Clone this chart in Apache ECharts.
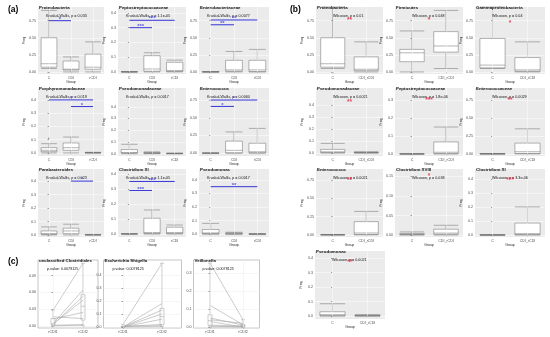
<!DOCTYPE html>
<html><head><meta charset="utf-8">
<script src="https://cdn.jsdelivr.net/npm/echarts@6/dist/echarts.min.js"></script>
<style>html,body{margin:0;padding:0;background:#fff}#c{width:550px;height:337px}</style>
</head><body><div id="c"></div><script>
// ---------- DATA ----------
const groupsA = ['C', 'CDI', 'rCDI'];
const groupsB = ['C', 'CDI_rCDI'];
const groupsC = ['rCDI1', 'rCDI2'];

const titlesA = ['Proteobacteria', 'Peptostreptococcaceae', 'Enterobacteriaceae', 'Porphyromonadaceae', 'Pseudomonadaceae', 'Enterococcus', 'Parabacteroides', 'Clostridium XI', 'Pseudomonas'];
const testsA = ['Kruskal-Wallis, p = 0.033', 'Kruskal-Wallis, p = 1.1e-05', 'Kruskal-Wallis, p = 0.0077', 'Kruskal-Wallis, p = 0.019', 'Kruskal-Wallis, p = 0.0017', 'Kruskal-Wallis, p = 0.0060', 'Kruskal-Wallis, p = 0.023', 'Kruskal-Wallis, p = 1.1e-05', 'Kruskal-Wallis, p = 0.0017'];
// [low, Q1, median, Q3, high] per group
const boxesA = [
  [[0.05, 0.07, 0.12, 0.50, 0.90], [0.00, 0.03, 0.04, 0.16, 0.22], [0.00, 0.04, 0.07, 0.26, 0.44]],
  [[0, 0, 0, 0.001, 0.002], [0, 0.005, 0.02, 0.11, 0.13], [0, 0.003, 0.01, 0.065, 0.08]],
  [[0, 0, 0, 0.002, 0.005], [0, 0.01, 0.03, 0.17, 0.30], [0, 0.005, 0.03, 0.17, 0.33]],
  [[0, 0.01, 0.02, 0.04, 0.07], [0, 0.02, 0.04, 0.075, 0.12], [0, 0, 0.001, 0.003, 0.005]],
  [[0, 0.005, 0.01, 0.035, 0.08], [0, 0.002, 0.005, 0.01, 0.015], [0, 0, 0.001, 0.003, 0.005]],
  [[0, 0, 0, 0.001, 0.002], [0, 0.005, 0.04, 0.17, 0.30], [0, 0.005, 0.02, 0.14, 0.35]],
  [[0, 0.005, 0.01, 0.03, 0.06], [0, 0.01, 0.03, 0.05, 0.08], [0, 0, 0.001, 0.002, 0.004]],
  [[0, 0, 0, 0.001, 0.002], [0, 0.003, 0.01, 0.105, 0.16], [0, 0.003, 0.01, 0.045, 0.06]],
  [[0, 0.005, 0.01, 0.035, 0.08], [0, 0.002, 0.005, 0.01, 0.015], [0, 0, 0.001, 0.003, 0.005]]
];
const outliersA = [[], [], [], [[0, 0.11]], [], [], [], [], []];
// [fromGroup, toGroup, y, label]
const sigA = [
  [[0, 1, 0.75, '*']],
  [[0, 2, 0.35, '***'], [0, 1, 0.30, '***']],
  [[0, 2, 0.76, '**'], [0, 1, 0.69, '**']],
  [[0, 2, 0.40, '*'], [1, 2, 0.35, '*']],
  [],
  [[0, 2, 0.75, '*'], [0, 1, 0.66, '*']],
  [[1, 2, 0.40, '*']],
  [[0, 2, 0.35, '***'], [0, 1, 0.29, '***']],
  [[0, 2, 0.35, '**']]
];
const ticksA = [
  [0, 0.25, 0.5, 0.75], [0, 0.1, 0.2, 0.3, 0.4], [0, 0.25, 0.5, 0.75],
  [0, 0.1, 0.2, 0.3, 0.4], [0, 0.1, 0.2, 0.3, 0.4], [0, 0.25, 0.5, 0.75],
  [0, 0.1, 0.2, 0.3, 0.4], [0, 0.1, 0.2, 0.3, 0.4], [0, 0.1, 0.2, 0.3, 0.4]
];
const yRangeA = [
  [-0.03, 0.95], [-0.014, 0.44], [-0.03, 0.95],
  [-0.023, 0.49], [-0.02, 0.56], [-0.04, 0.92],
  [-0.015, 0.49], [-0.02, 0.433], [-0.02, 0.48]
];

const titlesB = ['Proteobacteria', 'Firmicutes', 'Gammaproteobacteria', 'Pseudomonadaceae', 'Peptostreptococcaceae', 'Enterococcaceae', 'Enterococcus', 'Clostridium XVIII', 'Clostridium XI', 'Pseudomonas'];
const testsB = ['Wilcoxon, p = 0.01', 'Wilcoxon, p = 0.048', 'Wilcoxon, p = 0.04', 'Wilcoxon, p = 0.0021', 'Wilcoxon, p = 1.8e-06', 'Wilcoxon, p = 0.0029', 'Wilcoxon, p = 0.0021', 'Wilcoxon, p = 0.038', 'Wilcoxon, p = 3.3e-06', 'Wilcoxon, p = 0.0021'];
const boxesB = [
  [[0.05, 0.07, 0.12, 0.50, 0.95], [0.00, 0.02, 0.04, 0.22, 0.44]],
  [[0.00, 0.15, 0.28, 0.33, 0.60], [0.05, 0.29, 0.38, 0.59, 0.90]],
  [[0.05, 0.06, 0.10, 0.49, 0.95], [0.00, 0.01, 0.03, 0.21, 0.44]],
  [[0, 0.003, 0.01, 0.03, 0.08], [0, 0.001, 0.003, 0.006, 0.01]],
  [[0, 0, 0, 0.001, 0.002], [0, 0.003, 0.01, 0.067, 0.15]],
  [[0, 0, 0, 0.001, 0.002], [0, 0.005, 0.03, 0.15, 0.35]],
  [[0, 0, 0, 0.001, 0.002], [0, 0.005, 0.025, 0.18, 0.32]],
  [[0, 0.001, 0.002, 0.004, 0.008], [0, 0.002, 0.005, 0.015, 0.025]],
  [[0, 0, 0, 0.001, 0.002], [0, 0.003, 0.01, 0.085, 0.20]],
  [[0, 0.003, 0.01, 0.03, 0.085], [0, 0.001, 0.003, 0.006, 0.01]]
];
const starsB = [[0.76, '**'], [0.76, '*'], [0.72, '*'], [0.42, '**'], [0.30, '***'], [0.75, '**'], [0.75, '**'], [0.15, '*'], [0.39, '***'], [0.37, '**']];
const ticksB = [
  [0, 0.25, 0.5, 0.75], [0, 0.25, 0.5, 0.75], [0, 0.25, 0.5, 0.75],
  [0, 0.1, 0.2, 0.3, 0.4], [0, 0.1, 0.2, 0.3], [0, 0.25, 0.5, 0.75],
  [0, 0.25, 0.5, 0.75], [0, 0.05, 0.1, 0.15], [0, 0.1, 0.2, 0.3, 0.4],
  [0, 0.1, 0.2, 0.3, 0.4]
];
const yRangeB = [
  [-0.03, 0.95], [-0.03, 0.95], [-0.03, 0.95],
  [-0.025, 0.54], [-0.011, 0.367], [-0.03, 0.92],
  [-0.03, 0.90], [-0.005, 0.169], [-0.014, 0.47],
  [-0.02, 0.448]
];

const titlesC = ['unclassified Clostridiales', 'Escherichia Shigella', 'Veillonella'];
const testsC = ['p.value: 0.0078125', 'p.value: 0.0078125', 'p.value: 0.0078125'];
const pairsC1 = [[0.028, 0.112], [0.004, 0.064], [0.002, 0.053], [0.012, 0.024], [0.016, 0.013], [0.001, 0.002], [0.000, 0.001], [0.003, 0.046]];
const pairsC2 = [[0.02, 0.49], [0.0, 0.18], [0.0, 0.13], [0.0, 0.10], [0.0, 0.06], [0.005, 0.01], [0.0, 0.003], [0.003, 0.02]];
const pairsC3 = [[0.355, 0.04], [0.12, 0.012], [0.05, 0.01], [0.04, 0.02], [0.03, 0.0], [0.01, 0.005], [0.005, 0.0], [0.0, 0.0]];
const ticksC = [[0, 0.03, 0.06, 0.09], [0, 0.1, 0.2, 0.3, 0.4], [0, 0.1, 0.2, 0.3]];
const yRangeC = [[-0.004, 0.118], [-0.008, 0.515], [-0.006, 0.372]];

// ---------- LAYOUT ----------
const FONT = 'Liberation Sans, Arial, sans-serif';
const rowsAB = [[7, 67], [88, 68], [169, 68], [251, 68]];
const colsA = [[38, 66], [118, 68], [199, 70]];
const colsB = [[316, 67], [395, 68], [475, 70]];
const rectsC = [[38, 60], [103.5, 78], [193.5, 66]];
const rowC = [260, 68];

const option = { animation: false, textStyle: { fontFamily: FONT }, grid: [], xAxis: [], yAxis: [], series: [], title: [], graphic: [] };

function fmt(ticks) {
  const d = Math.max(...ticks.map(t => (String(t).split('.')[1] || '').length));
  return v => Number(v).toFixed(d);
}
function quart(arr) {
  const s = arr.slice().sort((a, b) => a - b);
  const q = p => { const i = (s.length - 1) * p, lo = Math.floor(i), hi = Math.ceil(i); return s[lo] + (s[hi] - s[lo]) * (i - lo); };
  return [s[0], q(0.25), q(0.5), q(0.75), s[s.length - 1]];
}

function panel(o) {
  const gi = option.grid.length;
  option.grid.push({ left: o.x, top: o.y, width: o.w, height: o.h, show: true, backgroundColor: o.bg, borderWidth: o.border ? 0.6 : 0, borderColor: '#a0a0a0' });
  const xc = option.xAxis.length;
  option.xAxis.push({ type: 'category', gridIndex: gi, data: o.cats, axisLine: { show: false },
    axisTick: { show: true, alignWithLabel: true, length: 1.5, lineStyle: { color: '#444', width: 0.5 } },
    axisLabel: { fontSize: 3.6, color: '#4d4d4d', margin: 2, fontFamily: FONT }, splitLine: { show: false },
    name: o.xname || '', nameLocation: 'middle', nameGap: 6.5, nameTextStyle: { fontSize: 3.4, color: '#222', fontFamily: FONT } });
  const xv = option.xAxis.length;
  option.xAxis.push({ type: 'value', gridIndex: gi, min: -0.5, max: o.cats.length - 0.5, show: false });
  const yi = option.yAxis.length;
  option.yAxis.push({ type: 'value', gridIndex: gi, min: o.range[0], max: o.range[1], axisLine: { show: false },
    axisTick: { show: true, length: 1.5, customValues: o.ticks, lineStyle: { color: '#444', width: 0.5 } },
    axisLabel: { fontSize: 3.6, color: '#4d4d4d', margin: 2, customValues: o.ticks, formatter: fmt(o.ticks), fontFamily: FONT },
    splitLine: { show: true, lineStyle: { color: o.gridColor, width: 0.5 } },
    name: o.yname || '', nameLocation: 'middle', nameGap: 12, nameRotate: 90, nameTextStyle: { fontSize: 3.4, color: '#222', fontFamily: FONT } });
  // vertical grid lines at categories
  option.series.push({ type: 'line', xAxisIndex: xc, yAxisIndex: yi, data: [], z: 1, silent: true,
    markLine: { silent: true, symbol: ['none', 'none'], label: { show: false }, animation: false,
      lineStyle: { color: o.gridColor, width: 0.5, type: 'solid' }, data: o.cats.map(c => ({ xAxis: c })) } });
  // paired lines
  (o.pairs || []).forEach(p => {
    option.series.push({ type: 'line', xAxisIndex: xc, yAxisIndex: yi, data: p, symbol: 'none', z: 3, silent: true,
      lineStyle: { color: '#a8a8a8', width: 0.6 } });
  });
  option.series.push({ type: 'boxplot', xAxisIndex: xc, yAxisIndex: yi, data: o.boxes, z: 2, silent: true,
    boxWidth: o.boxWidth, itemStyle: { color: '#ffffff', borderColor: o.boxColor || '#6a6a6a', borderWidth: 0.5 } });
  if (o.outliers && o.outliers.length) {
    option.series.push({ type: 'scatter', xAxisIndex: xc, yAxisIndex: yi, data: o.outliers, symbolSize: 1.6, z: 4, silent: true,
      itemStyle: { color: '#666' } });
  }
  (o.sig || []).forEach(s => {
    option.series.push({ type: 'line', xAxisIndex: xv, yAxisIndex: yi, data: [[s[0], s[2]], [s[1], s[2]]], symbol: 'none', z: 5, silent: true,
      lineStyle: { color: '#3434d8', width: 1 } });
    option.series.push({ type: 'scatter', xAxisIndex: xv, yAxisIndex: yi, data: [[(s[0] + s[1]) / 2, s[2]]], symbolSize: 0, z: 6, silent: true,
      label: { show: true, formatter: s[3], position: 'top', distance: -1.5, fontSize: 6, fontWeight: 'bold', color: '#3434d8', fontFamily: FONT } });
  });
  if (o.star) {
    option.series.push({ type: 'scatter', xAxisIndex: xv, yAxisIndex: yi, data: [[0.5, o.star[0]]], symbolSize: 0, z: 6, silent: true,
      label: { show: true, formatter: o.star[1], position: 'inside', fontSize: 6.5, fontWeight: 'bold', color: '#e3203b', fontFamily: FONT } });
  }
  option.title.push({ text: o.title, left: o.x - 4, top: o.y - 6.5, textStyle: { fontSize: 4.4, fontWeight: 'bold', color: '#111', fontFamily: FONT } });
  option.title.push({ text: o.sub, left: o.x + o.subDx, top: o.y + o.subDy, textStyle: { fontSize: 3.7, fontWeight: 'normal', color: '#111', fontFamily: FONT } });
}

// (a)
titlesA.forEach((t, i) => {
  const c = colsA[i % 3], r = rowsAB[Math.floor(i / 3)];
  panel({ x: c[0], w: c[1], y: r[0], h: r[1], bg: '#ebebeb', gridColor: '#ffffff', cats: groupsA, xname: 'Group', yname: 'Freq',
    boxes: boxesA[i], outliers: outliersA[i], sig: sigA[i], ticks: ticksA[i], range: yRangeA[i], boxWidth: ['72%', '72%'],
    title: t, sub: testsA[i], subDx: 3, subDy: 1.5 });
});
// (b)
titlesB.forEach((t, i) => {
  const c = i < 9 ? colsB[i % 3] : [315, 70], r = rowsAB[Math.floor(i / 3)];
  panel({ x: c[0], w: c[1], y: r[0], h: r[1], bg: '#ebebeb', gridColor: '#ffffff', cats: groupsB, xname: 'Group', yname: 'Freq',
    boxes: boxesB[i], star: starsB[i], ticks: ticksB[i], range: yRangeB[i], boxWidth: ['72%', '72%'],
    title: t, sub: testsB[i], subDx: 12, subDy: 2 });
});
// (c)
[pairsC1, pairsC2, pairsC3].forEach((pairs, i) => {
  const r = rectsC[i];
  const boxes = [quart(pairs.map(p => p[0])), quart(pairs.map(p => p[1]))];
  panel({ x: r[0], w: r[1], y: rowC[0], h: rowC[1], bg: '#ffffff', border: true, gridColor: '#ececec', cats: groupsC,
    boxes: boxes, pairs: pairs, ticks: ticksC[i], range: yRangeC[i], boxWidth: [4, 4], boxColor: '#9a9a9a',
    title: titlesC[i], sub: testsC[i], subDx: 4, subDy: 2 });
});

option.graphic = [
  { type: 'text', left: 8, top: 5, style: { text: '(a)', fontSize: 8.5, fontWeight: 'bold', fill: '#000', fontFamily: FONT } },
  { type: 'text', left: 290, top: 5, style: { text: '(b)', fontSize: 8.5, fontWeight: 'bold', fill: '#000', fontFamily: FONT } },
  { type: 'text', left: 8, top: 257, style: { text: '(c)', fontSize: 8.5, fontWeight: 'bold', fill: '#000', fontFamily: FONT } }
];

const chart = echarts.init(document.getElementById('c'), null, { renderer: 'canvas' });
chart.setOption(option);
</script></body></html>
